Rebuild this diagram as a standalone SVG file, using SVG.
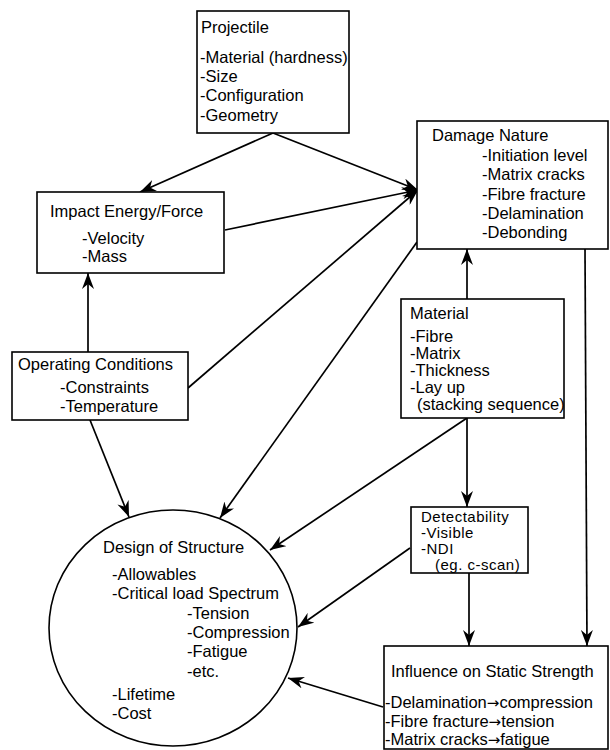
<svg xmlns="http://www.w3.org/2000/svg" width="610" height="750" viewBox="0 0 610 750">
<defs>
<marker id="ah" viewBox="0 0 16 12" refX="16" refY="6" markerWidth="16" markerHeight="12" orient="auto" markerUnits="userSpaceOnUse">
<path d="M0,0 L16,6 L0,12 L5,6 z" fill="#000"/>
</marker>
<style>
.box{fill:#fff;stroke:#000;stroke-width:1.6}
.t{font-family:"Liberation Sans",Arial,sans-serif;font-size:16.5px;fill:#000}
.s{font-size:15px;letter-spacing:0.5px}
.ar{font-family:"DejaVu Sans",sans-serif;font-size:15px}
.c{fill:none;stroke:#000;stroke-width:1.7}
</style>
</defs>
<rect width="610" height="750" fill="#fff"/>
<g id="connectors">
<line class="c" x1="273" y1="133" x2="140" y2="192" marker-end="url(#ah)"/>
<line class="c" x1="273" y1="133" x2="418" y2="190" marker-end="url(#ah)"/>
<line class="c" x1="225" y1="230" x2="418" y2="190" marker-end="url(#ah)"/>
<line class="c" x1="188" y1="388" x2="418" y2="190" marker-end="url(#ah)"/>
<line class="c" x1="88" y1="352" x2="88" y2="273" marker-end="url(#ah)"/>
<line class="c" x1="90" y1="420" x2="129" y2="517" marker-end="url(#ah)"/>
<line class="c" x1="417" y1="242" x2="220" y2="518" marker-end="url(#ah)"/>
<line class="c" x1="467" y1="299" x2="467" y2="249" marker-end="url(#ah)"/>
<line class="c" x1="467" y1="418" x2="270" y2="550" marker-end="url(#ah)"/>
<line class="c" x1="467" y1="418" x2="467" y2="507" marker-end="url(#ah)"/>
<line class="c" x1="410" y1="548" x2="298" y2="627" marker-end="url(#ah)"/>
<line class="c" x1="469" y1="573" x2="469" y2="646" marker-end="url(#ah)"/>
<line class="c" x1="585" y1="249" x2="587" y2="646" marker-end="url(#ah)"/>
<line class="c" x1="383" y1="707" x2="288" y2="678" marker-end="url(#ah)"/>
</g>
<g id="projectile">
<rect class="box" x="197" y="11" width="152" height="122"/>
<text class="t" x="201" y="33">Projectile</text>
<text class="t" x="200" y="63">-Material (hardness)</text>
<text class="t" x="200" y="82">-Size</text>
<text class="t" x="200" y="101">-Configuration</text>
<text class="t" x="200" y="121">-Geometry</text>
</g>
<g id="damage-nature">
<rect class="box" x="417" y="121" width="191" height="128"/>
<text class="t" x="432" y="141">Damage Nature</text>
<text class="t" x="482" y="161">-Initiation level</text>
<text class="t" x="482" y="180">-Matrix cracks</text>
<text class="t" x="482" y="200">-Fibre fracture</text>
<text class="t" x="482" y="219">-Delamination</text>
<text class="t" x="482" y="238">-Debonding</text>
</g>
<g id="impact">
<rect class="box" x="37" y="192" width="187" height="81"/>
<text class="t" x="50" y="217">Impact Energy/Force</text>
<text class="t" x="82" y="244">-Velocity</text>
<text class="t" x="82" y="262">-Mass</text>
</g>
<g id="operating">
<rect class="box" x="12" y="352" width="176" height="68"/>
<text class="t" x="18" y="370">Operating Conditions</text>
<text class="t" x="60" y="393">-Constraints</text>
<text class="t" x="60" y="412">-Temperature</text>
</g>
<g id="material">
<rect class="box" x="401" y="299" width="163" height="119"/>
<text class="t" x="410" y="319">Material</text>
<text class="t" x="410" y="342">-Fibre</text>
<text class="t" x="410" y="359">-Matrix</text>
<text class="t" x="410" y="376">-Thickness</text>
<text class="t" x="410" y="393">-Lay up</text>
<text class="t" x="417" y="410">(stacking sequence)</text>
</g>
<g id="detectability">
<rect class="box" x="411" y="507" width="117" height="66"/>
<text class="t s" x="421" y="522">Detectability</text>
<text class="t s" x="421" y="538">-Visible</text>
<text class="t s" x="421" y="554">-NDI</text>
<text class="t s" x="435" y="570">(eg. c-scan)</text>
</g>
<g id="influence">
<rect class="box" x="384" y="646" width="224" height="103"/>
<text class="t" x="391" y="677">Influence on Static Strength</text>
<text class="t" x="385" y="708">-Delamination<tspan class="ar">→</tspan>compression</text>
<text class="t" x="385" y="727">-Fibre fracture<tspan class="ar">→</tspan>tension</text>
<text class="t" x="385" y="745">-Matrix cracks<tspan class="ar">→</tspan>fatigue</text>
</g>
<g id="design">
<ellipse class="box" cx="173" cy="628" rx="124" ry="118"/>
<text class="t" x="103" y="553">Design of Structure</text>
<text class="t" x="112" y="580">-Allowables</text>
<text class="t" x="112" y="599">-Critical load Spectrum</text>
<text class="t" x="187" y="619">-Tension</text>
<text class="t" x="187" y="638">-Compression</text>
<text class="t" x="187" y="657">-Fatigue</text>
<text class="t" x="187" y="677">-etc.</text>
<text class="t" x="112" y="700">-Lifetime</text>
<text class="t" x="112" y="719">-Cost</text>
</g>
</svg>
